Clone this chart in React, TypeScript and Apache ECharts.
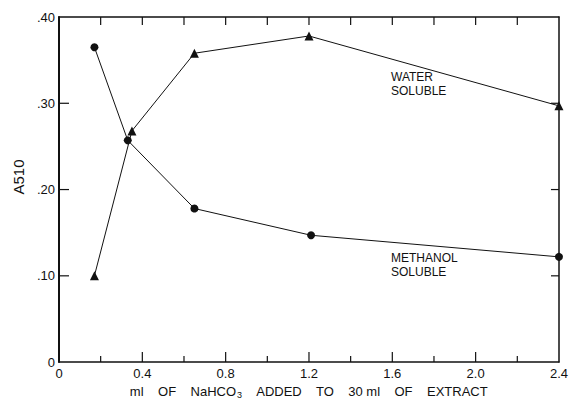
import React, { useEffect, useRef } from "react";
import * as echarts from "echarts";

// Data
const waterX = [0.17, 0.35, 0.65, 1.2, 2.4];
const waterY = [0.1, 0.268, 0.358, 0.378, 0.297];
const methanolX = [0.17, 0.33, 0.65, 1.21, 2.4];
const methanolY = [0.365, 0.257, 0.178, 0.147, 0.122];
const xTicks = [0, 0.4, 0.8, 1.2, 1.6, 2.0, 2.4];
const xMinorTicks = [0.2, 0.6, 1.0, 1.4, 1.8, 2.2];
const yTicks = [0, 0.1, 0.2, 0.3, 0.4];

const FONT = "'Liberation Sans', Arial, sans-serif";
const INK = "#111";

export default function App() {
  const ref = useRef<HTMLDivElement>(null);

  useEffect(() => {
    if (!ref.current) return;
    const chart = echarts.init(ref.current, undefined, { renderer: "svg" });
    const xMin = xTicks[0];
    const xMax = xTicks[xTicks.length - 1];
    const yMin = yTicks[0];
    const yMax = yTicks[yTicks.length - 1];

    const lineStyle = { color: INK, width: 1.5 };
    const hidden = { show: false };

    // tick marks: [x, y, dx, dy] anchor in data space, direction/length in pixels
    const tickData: number[][] = [];
    xTicks.slice(1, -1).forEach((v) => tickData.push([v, yMin, 0, -10]));
    xMinorTicks.forEach((v) => tickData.push([v, yMin, 0, -6]));
    xTicks.slice(1, -1).forEach((v) => tickData.push([v, yMax, 0, 8]));
    xMinorTicks.forEach((v) => tickData.push([v, yMax, 0, 8]));
    yTicks.slice(1, -1).forEach((v) => tickData.push([xMin, v, 10, 0]));
    yTicks.slice(1, -1).forEach((v) => tickData.push([xMax, v, -8, 0]));

    chart.setOption({
      animation: false,
      backgroundColor: "#fff",
      grid: { left: 59, right: 8, top: 17, bottom: 39, containLabel: false },
      xAxis: [
        {
          type: "value",
          position: "bottom",
          min: xMin,
          max: xMax,
          interval: 0.4,
          axisLine: { show: true, onZero: false, lineStyle },
          axisTick: hidden,
          splitLine: hidden,
          axisLabel: {
            margin: 5,
            fontSize: 13,
            fontFamily: FONT,
            color: INK,
            formatter: (v: number) => (v === 0 ? "0" : v.toFixed(1)),
          },
          name: "{t|ml    OF    NaHCO}{sub|3}{t|    ADDED    TO    30 ml    OF    EXTRACT}",
          nameLocation: "middle",
          nameGap: 21,
          nameTextStyle: {
            rich: {
              t: { fontSize: 13, fontFamily: FONT, color: INK },
              sub: { fontSize: 9, fontFamily: FONT, color: INK, padding: [6, 0, 0, 1] },
            },
          },
        },
        {
          type: "value",
          position: "top",
          min: xMin,
          max: xMax,
          interval: 0.2,
          axisLine: { show: true, onZero: false, lineStyle },
          axisTick: hidden,
          splitLine: hidden,
          axisLabel: hidden,
        },
      ],
      yAxis: [
        {
          type: "value",
          position: "left",
          min: yMin,
          max: yMax,
          interval: 0.1,
          axisLine: { show: true, onZero: false, lineStyle: { color: INK, width: 2 } },
          axisTick: hidden,
          splitLine: hidden,
          axisLabel: {
            margin: 4,
            fontSize: 13,
            fontFamily: FONT,
            color: INK,
            formatter: (v: number) => (v === 0 ? "0" : "." + String(Math.round(v * 100)).padStart(2, "0")),
          },
        },
        {
          type: "value",
          position: "right",
          min: yMin,
          max: yMax,
          interval: 0.1,
          axisLine: { show: true, onZero: false, lineStyle },
          axisTick: hidden,
          splitLine: hidden,
          axisLabel: hidden,
        },
      ],
      series: [
        {
          name: "ticks",
          type: "custom",
          xAxisIndex: 0,
          yAxisIndex: 0,
          silent: true,
          clip: false,
          z: 10,
          encode: { x: 0, y: 1 },
          data: tickData,
          renderItem: (params: any, api: any) => {
            const p = api.coord([api.value(0), api.value(1)]);
            const dx = api.value(2);
            const dy = api.value(3);
            return {
              type: "line",
              shape: { x1: p[0], y1: p[1], x2: p[0] + dx, y2: p[1] + dy },
              style: { stroke: INK, lineWidth: 1.2 },
            };
          },
        },
        {
          name: "WATER SOLUBLE",
          type: "line",
          xAxisIndex: 0,
          yAxisIndex: 0,
          data: waterX.map((x, i) => [x, waterY[i]]),
          symbol: "triangle",
          symbolSize: 9,
          showAllSymbol: true,
          itemStyle: { color: INK },
          lineStyle: { color: INK, width: 1 },
          label: { show: false },
        },
        {
          name: "METHANOL SOLUBLE",
          type: "line",
          xAxisIndex: 0,
          yAxisIndex: 0,
          data: methanolX.map((x, i) => [x, methanolY[i]]),
          symbol: "circle",
          symbolSize: 8,
          showAllSymbol: true,
          itemStyle: { color: INK },
          lineStyle: { color: INK, width: 1 },
          label: { show: false },
        },
      ],
      graphic: [
        {
          type: "text",
          x: 18,
          y: 177,
          rotation: Math.PI / 2,
          style: {
            text: "A510",
            align: "center",
            verticalAlign: "middle",
            fontSize: 15,
            fontFamily: FONT,
            fill: INK,
          },
        },
        {
          type: "text",
          left: 391,
          top: 70,
          style: {
            text: "WATER\nSOLUBLE",
            fontSize: 12,
            lineHeight: 14,
            fontFamily: FONT,
            fill: INK,
          },
        },
        {
          type: "text",
          left: 391,
          top: 251,
          style: {
            text: "METHANOL\nSOLUBLE",
            fontSize: 12,
            lineHeight: 14,
            fontFamily: FONT,
            fill: INK,
          },
        },
      ],
    });

    return () => chart.dispose();
  }, []);

  return (
    <div
      ref={ref}
      style={{ position: "absolute", left: 0, top: 0, width: 571, height: 404, background: "#fff" }}
    />
  );
}
